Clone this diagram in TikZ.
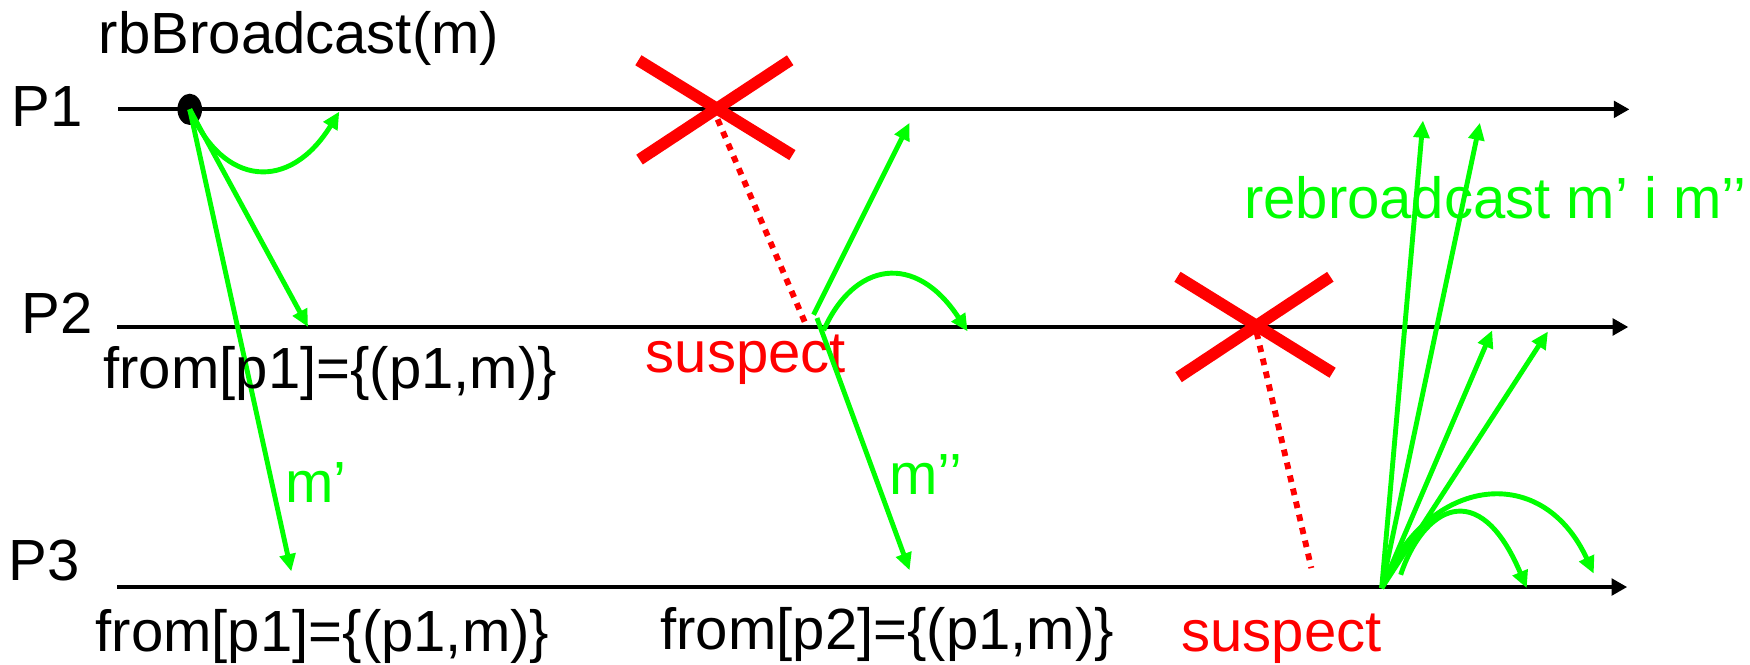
\documentclass[tikz,border=0pt]{standalone}
\usepackage{fontspec}
\setmainfont{Liberation Sans}
\usetikzlibrary{arrows.meta,shapes.geometric}
\definecolor{msggreen}{RGB}{0,255,0}
\definecolor{crashred}{RGB}{255,0,0}

\begin{document}
\begin{tikzpicture}[x=0.01cm,y=-0.01cm,
		font=\fontsize{14.8}{17}\selectfont,
		txt/.style={inner sep=0pt,anchor=base west},
		timeline/.style={line width=1pt,-{Triangle[length=4pt,width=4.2pt]}},
		msg/.style={msggreen,line width=1.25pt,-{Triangle[length=4.4pt,width=4pt]}},
		crash/.style={crashred,line width=3pt},
		susp/.style={crashred,line width=1.5pt,dash pattern=on 1.7pt off 1.7pt}]
	\useasboundingbox (0,0) rectangle (1568,595);
	% process lines
	\coordinate (p1s) at (106,98);	\coordinate (p1e) at (1460,98);
	\coordinate (p2s) at (105,293);	\coordinate (p2e) at (1459,293);
	\coordinate (p3s) at (105,526);	\coordinate (p3e) at (1458,526);
	\draw[timeline] (p1s) -- (p1e);
	\draw[timeline] (p2s) -- (p2e);
	\draw[timeline] (p3s) -- (p3e);
	\node[txt] (lp1) at (10,113) {P1};
	\node[txt] (lp2) at (19,299) {P2};
	\node[txt] (lp3) at (7,520) {P3};
	% broadcast by P1
	\node[txt] (rbb) at (88,48) {rbBroadcast(m)};
	\node (bcast) at (170,98) [ellipse,fill,inner sep=0pt,minimum width=0.22cm,minimum height=0.28cm] {};
	\coordinate (a1) at (304,100);
	\coordinate (a2) at (276,293);
	\coordinate (a3) at (261,512);
	\draw[msg] (bcast.center) .. controls (200,168) and (260,172) .. (a1);
	\draw[msg] (bcast.center) -- (a2);
	\draw[msg] (bcast.center) -- (a3);
	\node[txt] (from21) at (92,348) {from[p1]=\{(p1,m)\}};
	\node[txt,text=msggreen] (mone) at (255,450) {m’};
	\node[txt] (from31) at (85,584) {from[p1]=\{(p1,m)\}};
	% P1 crashes
	\coordinate (x1a) at (572,54);	\coordinate (x1b) at (710,139);
	\coordinate (x1c) at (573,143);	\coordinate (x1d) at (708,54);
	\draw[crash] (x1a) -- (x1b);
	\draw[crash] (x1c) -- (x1d);
	\coordinate (s1) at (723,293);
	\draw[susp] (643,107) -- (s1);
	\node[txt,text=crashred] (susp2) at (578,334) {suspect};
	% P2 relays m
	\coordinate (b0) at (729,282);
	\coordinate (b1) at (815,110);
	\coordinate (b2s) at (738,296);	\coordinate (b2) at (867,297);
	\coordinate (b3s) at (732,285);	\coordinate (b3) at (815,511);
	\draw[msg] (b0) -- (b1);
	\draw[msg] (b2s) .. controls (765,235) and (820,225) .. (b2);
	\draw[msg] (b3s) -- (b3);
	\node[txt,text=msggreen] (mtwo) at (796,443) {m’’};
	\node[txt] (from32) at (591,582) {from[p2]=\{(p1,m)\}};
	% P2 crashes
	\coordinate (x2a) at (1055,248);	\coordinate (x2b) at (1194,334);
	\coordinate (x2c) at (1056,338);	\coordinate (x2d) at (1192,248);
	\draw[crash] (x2a) -- (x2b);
	\draw[crash] (x2c) -- (x2d);
	\coordinate (s2) at (1175,509);
	\draw[susp] (1126,298) -- (s2);
	\node[txt,text=crashred] (susp3) at (1058,584) {suspect};
	% P3 rebroadcasts
	\coordinate (r0) at (1238,527);
	\coordinate (r1) at (1275,108);
	\coordinate (r2) at (1326,110);
	\coordinate (r3) at (1337,296);
	\coordinate (r4) at (1387,297);
	\coordinate (r5s) at (1255,515);	\coordinate (r5) at (1368,527);
	\coordinate (r6) at (1428,514);
	\draw[msg] (r0) -- (r1);
	\draw[msg] (r0) -- (r2);
	\draw[msg] (r0) -- (r3);
	\draw[msg] (r0) -- (r4);
	\draw[msg] (r5s) .. controls (1275,455) and (1325,425) .. (r5);
	\draw[msg] (r0) .. controls (1275,430) and (1380,410) .. (r6);
	\node[txt,text=msggreen] (rebc) at (1114,196) {rebroadcast m’ i m’’};
\end{tikzpicture}
\end{document}
